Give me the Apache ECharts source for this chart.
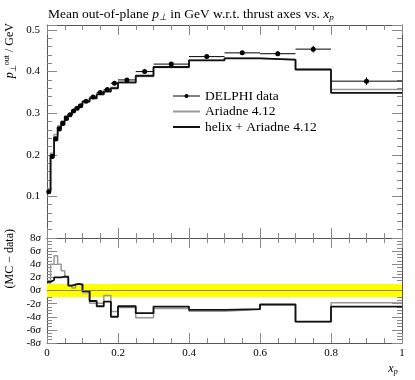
<!DOCTYPE html>
<html>
<head>
<meta charset="utf-8">
<script src="https://cdn.jsdelivr.net/npm/echarts@6/dist/echarts.min.js"></script>
<style>
html, body { margin: 0; padding: 0; background: #fff; }
#ch { width: 415px; height: 380px; }
</style>
</head>
<body>
<div id="ch"></div>
<script>
// bin edges in x_p
var edges = [0, 0.01, 0.02, 0.03, 0.04, 0.05, 0.06, 0.07, 0.08, 0.09, 0.1, 0.12, 0.14, 0.16, 0.18, 0.2, 0.25, 0.3, 0.4, 0.5, 0.6, 0.7, 0.8, 1.0];
// DELPHI data
var dataVals = [0.111, 0.196, 0.238, 0.262, 0.275, 0.287, 0.296, 0.305, 0.312, 0.318, 0.329, 0.339, 0.350, 0.357, 0.372, 0.380, 0.400, 0.418, 0.436, 0.445, 0.443, 0.454, 0.377];
var dataErrs = [0.002, 0.002, 0.002, 0.002, 0.002, 0.002, 0.002, 0.002, 0.002, 0.002, 0.002, 0.002, 0.002, 0.003, 0.003, 0.003, 0.003, 0.003, 0.003, 0.004, 0.006, 0.008, 0.009];
// MC
var ariadneVals = [0.113, 0.204, 0.249, 0.270, 0.281, 0.291, 0.297, 0.306, 0.314, 0.320, 0.328, 0.335, 0.346, 0.355, 0.362, 0.373, 0.388, 0.410, 0.427, 0.432, 0.428, 0.405, 0.357];
var helixVals = [0.113, 0.199, 0.242, 0.266, 0.279, 0.292, 0.297, 0.307, 0.314, 0.320, 0.328, 0.336, 0.345, 0.352, 0.360, 0.374, 0.390, 0.411, 0.427, 0.432, 0.429, 0.405, 0.349];
// (MC - data) / sigma
var ariadneDev = [1.15, 4.0, 5.3, 4.0, 3.0, 2.0, 0.75, 0.4, 1.0, 1.0, -0.35, -1.95, -1.95, -0.75, -3.2, -2.6, -4.15, -2.75, -3.15, -2.85, -2.25, -4.75, -1.85];
var helixDev = [1.3, 1.6, 2.0, 2.0, 2.1, 2.1, 0.75, 0.9, 1.0, 0.9, -0.1, -1.6, -2.4, -1.7, -4.0, -2.4, -3.45, -2.45, -2.95, -2.85, -2.1, -4.75, -2.45];

var FONT = 'Liberation Serif';
var frameCol = '#555';
var tickCol = '#888';

function steps(vals) {
  var out = [];
  for (var i = 0; i < vals.length; i++) {
    out.push([edges[i], vals[i]]);
    out.push([edges[i + 1], vals[i]]);
  }
  return out;
}

var points = [], errs = [];
for (var i = 0; i < dataVals.length; i++) {
  points.push([(edges[i] + edges[i + 1]) / 2, dataVals[i]]);
  errs.push([edges[i], edges[i + 1], dataVals[i], dataErrs[i]]);
}

function axisBase(extra) {
  var a = {
    axisLine: { show: true, onZero: false, lineStyle: { color: frameCol, width: 1 } },
    axisTick: { show: true, inside: true, length: 10, lineStyle: { color: tickCol } },
    minorTick: { show: true, length: 5, lineStyle: { color: tickCol } },
    splitLine: { show: false },
    axisLabel: { show: false }
  };
  for (var k in extra) a[k] = extra[k];
  return a;
}

var sigmaLabel = function (v) {
  return '{n|' + v + '}{s|σ}';
};
var labelRich = {
  n: { fontFamily: FONT, fontSize: 11, color: '#000' },
  s: { fontFamily: FONT, fontSize: 11, fontStyle: 'italic', color: '#000' }
};

window.onload = function () {
  var ch = echarts.init(document.getElementById('ch'));
  var op = {
    animation: false,
    title: {
      text: '{n|Mean out-of-plane }{i|p}{sb|⊥}{n| in GeV w.r.t. thrust axes vs. }{i|x}{sb|p}',
      left: 43,
      top: 2,
      textStyle: {
        fontWeight: 'normal',
        rich: {
          n: { fontFamily: FONT, fontSize: 13.5, fontWeight: 'normal', color: '#000' },
          i: { fontFamily: FONT, fontSize: 13.5, fontWeight: 'normal', fontStyle: 'italic', color: '#000' },
          sb: { fontFamily: FONT, fontSize: 9, fontWeight: 'normal', fontStyle: 'italic', color: '#000', padding: [6, 0, 0, 0] }
        }
      }
    },
    legend: {
      left: 167,
      top: 84,
      orient: 'vertical',
      itemWidth: 27,
      itemHeight: 5,
      itemGap: 1.5,
      textStyle: { fontFamily: FONT, fontSize: 13.5, color: '#000' },
      data: [
        { name: 'DELPHI data', lineStyle: { opacity: 1, width: 1, color: '#000' } },
        { name: 'Ariadne 4.12', itemStyle: { opacity: 0 } },
        { name: 'helix + Ariadne 4.12', itemStyle: { opacity: 0 } }
      ]
    },
    grid: [
      { left: 47, right: 13, top: 25, height: 213 },
      { left: 47, right: 13, top: 238, height: 105 }
    ],
    xAxis: [
      axisBase({ type: 'value', gridIndex: 0, min: 0, max: 1, interval: 0.2, minorTick: { show: true, splitNumber: 4, length: 5, lineStyle: { color: tickCol } } }),
      axisBase({ type: 'value', gridIndex: 1, min: 0, max: 1, interval: 0.2, minorTick: { show: true, splitNumber: 4, length: 5, lineStyle: { color: tickCol } },
        axisLabel: { show: true, margin: 5, fontFamily: FONT, fontSize: 11, color: '#000' } }),
      axisBase({ type: 'value', gridIndex: 0, position: 'top', min: 0, max: 1, interval: 0.2, minorTick: { show: true, splitNumber: 4, length: 5, lineStyle: { color: tickCol } } }),
      axisBase({ type: 'value', gridIndex: 1, position: 'top', min: 0, max: 1, interval: 0.2, minorTick: { show: true, splitNumber: 4, length: 5, lineStyle: { color: tickCol } } })
    ],
    yAxis: [
      axisBase({ type: 'value', gridIndex: 0, min: 0, max: 0.512, interval: 0.1, minorTick: { show: true, splitNumber: 5, length: 5, lineStyle: { color: tickCol } },
        axisLabel: { show: true, margin: 7, fontFamily: FONT, fontSize: 11, color: '#000', showMaxLabel: false,
          formatter: function (v) { return (v > 0.05 && v < 0.505) ? v.toFixed(1) : ''; } } }),
      axisBase({ type: 'value', gridIndex: 0, position: 'right', min: 0, max: 0.512, interval: 0.1, minorTick: { show: true, splitNumber: 5, length: 5, lineStyle: { color: tickCol } } }),
      axisBase({ type: 'value', gridIndex: 1, min: -8, max: 8, interval: 2, minorTick: { show: true, splitNumber: 4, length: 5, lineStyle: { color: tickCol } },
        axisLabel: { show: true, margin: 6, formatter: sigmaLabel, rich: labelRich } }),
      axisBase({ type: 'value', gridIndex: 1, position: 'right', min: -8, max: 8, interval: 2, minorTick: { show: true, splitNumber: 4, length: 5, lineStyle: { color: tickCol } } })
    ],
    graphic: [
      {
        type: 'text', x: 10, y: 23, rotation: Math.PI / 2,
        style: {
          text: '{i|p}{sb|⊥}{sp|out}{n| / GeV}', align: 'right', verticalAlign: 'middle',
          rich: {
            n: { fontFamily: FONT, fontSize: 12, fill: '#000' },
            i: { fontFamily: FONT, fontSize: 12, fontStyle: 'italic', fill: '#000' },
            sb: { fontFamily: FONT, fontSize: 8, fill: '#000', padding: [7, 0, 0, 0] },
            sp: { fontFamily: FONT, fontSize: 8, fill: '#000', padding: [0, 0, 7, 0] }
          }
        }
      },
      {
        type: 'text', x: 10, y: 229, rotation: Math.PI / 2,
        style: { text: '(MC − data)', align: 'right', verticalAlign: 'middle', font: '12px "Liberation Serif"', fill: '#000' }
      },
      {
        type: 'text', x: 393, y: 369,
        style: {
          text: '{i|x}{sb|p}', align: 'center', verticalAlign: 'middle',
          rich: {
            i: { fontFamily: FONT, fontSize: 12, fontStyle: 'italic', fill: '#000' },
            sb: { fontFamily: FONT, fontSize: 8, fontStyle: 'italic', fill: '#000', padding: [6, 0, 0, 0] }
          }
        }
      }
    ],
    series: [
      {
        name: 'Ariadne 4.12', type: 'line', xAxisIndex: 0, yAxisIndex: 0,
        data: steps(ariadneVals), symbol: 'none', z: 3,
        lineStyle: { color: '#999', width: 1.5 }, itemStyle: { color: '#999' }
      },
      {
        name: 'helix + Ariadne 4.12', type: 'line', xAxisIndex: 0, yAxisIndex: 0,
        data: steps(helixVals), symbol: 'none', z: 4,
        lineStyle: { color: '#111', width: 1.8 }, itemStyle: { color: '#111' }
      },
      {
        name: 'err', type: 'custom', xAxisIndex: 0, yAxisIndex: 0, z: 5,
        data: errs,
        encode: { x: [0, 1], y: 2 },
        renderItem: function (params, api) {
          var lo = api.value(0), hi = api.value(1), v = api.value(2), e = api.value(3);
          var a = api.coord([lo, v]), b = api.coord([hi, v]);
          var t = api.coord([(lo + hi) / 2, v + e]), d = api.coord([(lo + hi) / 2, v - e]);
          var st = { stroke: '#000', lineWidth: 1 };
          return {
            type: 'group',
            children: [
              { type: 'line', shape: { x1: a[0], y1: a[1], x2: b[0], y2: b[1] }, style: st },
              { type: 'line', shape: { x1: t[0], y1: t[1], x2: d[0], y2: d[1] }, style: st }
            ]
          };
        }
      },
      {
        name: 'DELPHI data', type: 'line', xAxisIndex: 0, yAxisIndex: 0, z: 6,
        data: points, symbol: 'circle', symbolSize: 5,
        itemStyle: { color: '#000' }, lineStyle: { opacity: 0, color: '#000' }
      },
      {
        name: 'band', type: 'line', xAxisIndex: 1, yAxisIndex: 2, z: 1,
        data: [], symbol: 'none',
        markArea: {
          silent: true,
          itemStyle: { color: '#ffff00', opacity: 1 },
          data: [[{ yAxis: -1 }, { yAxis: 1 }]]
        },
        markLine: {
          silent: true, symbol: 'none', label: { show: false },
          lineStyle: { color: '#8a8a30', width: 1, type: 'solid' },
          data: [{ yAxis: 0 }]
        }
      },
      {
        name: 'Ariadne dev', type: 'line', xAxisIndex: 1, yAxisIndex: 2, z: 3,
        data: steps(ariadneDev), symbol: 'none',
        lineStyle: { color: '#999', width: 1.5 }
      },
      {
        name: 'helix dev', type: 'line', xAxisIndex: 1, yAxisIndex: 2, z: 4,
        data: steps(helixDev), symbol: 'none',
        lineStyle: { color: '#111', width: 1.8 }
      }
    ]
  };
  ch.setOption(op);
};
</script>
</body>
</html>
